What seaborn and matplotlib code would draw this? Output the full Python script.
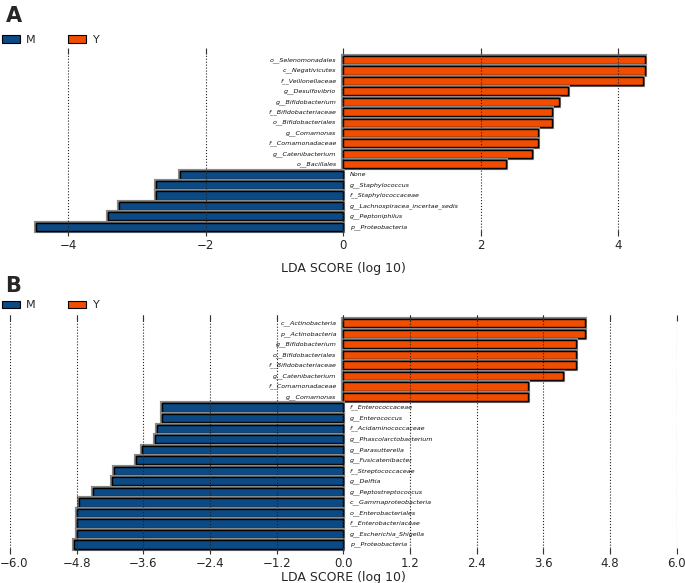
"""
LEfSe LDA score bar charts (panels A and B)
"""

import numpy as np
import pandas as pd
import matplotlib
matplotlib.use('Agg')
import matplotlib.pyplot as plt
import matplotlib.patheffects as pe
import matplotlib.transforms as mtransforms
from matplotlib.patches import Patch
import seaborn as sns

sns.set_theme(style='white')
plt.rcParams['font.family'] = ['DejaVu Sans']

COLOR_M = '#0b4a85'
COLOR_Y = '#f24c00'

# panel A
a_names = [
    'o__Selenomonadales', 'c__Negativicutes', 'f__Veillonellaceae', 'g__Desulfovibrio',
    'g__Bifidobacterium', 'f__Bifidobacteriaceae', 'o__Bifidobacteriales', 'g__Comamonas',
    'f__Comamonadaceae', 'g__Catenibacterium', 'o__Bacillales', 'None',
    'g__Staphylococcus', 'f__Staphylococcaceae', 'g__Lachnospiracea_incertae_sedis',
    'g__Peptoniphilus', 'p__Proteobacteria',
]
a_scores = [4.38, 4.38, 4.36, 3.27, 3.14, 3.04, 3.04, 2.83, 2.83, 2.75, 2.37,
            -2.38, -2.72, -2.73, -3.26, -3.43, -4.47]
a_ticks = [-4, -2, 0, 2, 4]

# panel B
b_names = [
    'c__Actinobacteria', 'p__Actinobacteria', 'g__Bifidobacterium', 'o__Bifidobacteriales',
    'f__Bifidobacteriaceae', 'g__Catenibacterium', 'f__Comamonadaceae', 'g__Comamonas',
    'f__Enterococcaceae', 'g__Enterococcus', 'f__Acidaminococcaceae',
    'g__Phascolarctobacterium', 'g__Parasutterella', 'g__Fusicatenibacter',
    'f__Streptococcaceae', 'g__Delftia', 'g__Peptostreptococcus',
    'c__Gammaproteobacteria', 'o__Enterobacteriales', 'f__Enterobacteriaceae',
    'g__Escherichia_Shigella', 'p__Proteobacteria',
]
b_scores = [4.34, 4.35, 4.18, 4.18, 4.18, 3.95, 3.33, 3.32,
            -3.26, -3.26, -3.36, -3.39, -3.63, -3.73, -4.12, -4.16, -4.51,
            -4.76, -4.79, -4.79, -4.80, -4.84]
b_ticks = [-6.0, -4.8, -3.6, -2.4, -1.2, 0.0, 1.2, 2.4, 3.6, 4.8, 6.0]


def lda_panel(ax, names, scores, ticks, xlim, tick_fmt, top_pad, labelpad):
    df = pd.DataFrame({'name': names, 'score': scores})
    df['group'] = np.where(df.score > 0, 'Y', 'M')
    sns.barplot(data=df, x='score', y='name', hue='group', orient='h',
                palette={'M': COLOR_M, 'Y': COLOR_Y}, dodge=False, saturation=1,
                width=0.78, edgecolor='black', linewidth=1.0,
                legend=False, ax=ax, zorder=2)
    for p in ax.patches:
        p.set_path_effects([pe.withStroke(linewidth=3.0, foreground='#8a8a8a'), pe.Normal()])

    for i, (n, s) in enumerate(zip(names, scores)):
        if s > 0:
            ax.annotate(n, (0, i), xytext=(-5, 0), textcoords='offset points',
                        ha='right', va='center', fontsize=4.6, style='italic',
                        color='#111111', zorder=4)
        else:
            ax.annotate(n, (0, i), xytext=(4.5, 0), textcoords='offset points',
                        ha='left', va='center', fontsize=4.6, style='italic',
                        color='#111111', zorder=4)

    ax.set_xlim(*xlim)
    n = len(names)
    ax.set_ylim(n - 0.5 + 0.35, -0.5 - top_pad)
    ax.set_xticks(ticks)
    ax.set_xticklabels([tick_fmt.format(t).replace('-', '\u2212') for t in ticks])
    ax.set_yticks([])
    ax.set_ylabel('')
    ax.set_xlabel('LDA SCORE (log 10)', fontsize=9, labelpad=labelpad)
    ax.xaxis.grid(True, ls=':', color='#222222', lw=0.8)
    ax.set_axisbelow(False)
    ax.tick_params(axis='x', which='both', top=True, bottom=True, direction='in',
                   length=4, width=0.8, color='#333333', labelsize=8.5, pad=2.5)
    for s in ax.spines.values():
        s.set_visible(False)


fig = plt.figure(figsize=(6.85, 5.83), dpi=100)

ax_a = fig.add_axes([0.0146, 0.5959, 0.9735, 0.3225])
lda_panel(ax_a, a_names, a_scores, a_ticks, (-4.85, 4.85), '{:.0f}', 0.7, 7)

ax_b = fig.add_axes([0.0146, 0.0505, 0.9735, 0.4096])
lda_panel(ax_b, b_names, b_scores, b_ticks, (-6.0, 6.0), '{:.1f}', 0.3, 0.5)

# keep the edge label inside the canvas
shift = mtransforms.ScaledTranslation(4 / 100, 0, fig.dpi_scale_trans)
lab = ax_b.get_xticklabels()[0]
lab.set_transform(lab.get_transform() + shift)

handles = [Patch(facecolor=COLOR_M, edgecolor='black', lw=0.8),
           Patch(facecolor=COLOR_Y, edgecolor='black', lw=0.8)]
for y in (0.931, 0.476):
    fig.legend(handles, ['M', 'Y'], loc='center left', bbox_to_anchor=(-0.012, y),
               ncol=2, frameon=False, fontsize=8, handlelength=1.6, handleheight=0.7,
               handletextpad=0.6, columnspacing=2.9)

fig.text(0.008, 0.99, 'A', fontsize=15, weight='bold', va='top', ha='left')
fig.text(0.008, 0.527, 'B', fontsize=15, weight='bold', va='top', ha='left')

plt.savefig('out.png', dpi=100)
plt.close()
